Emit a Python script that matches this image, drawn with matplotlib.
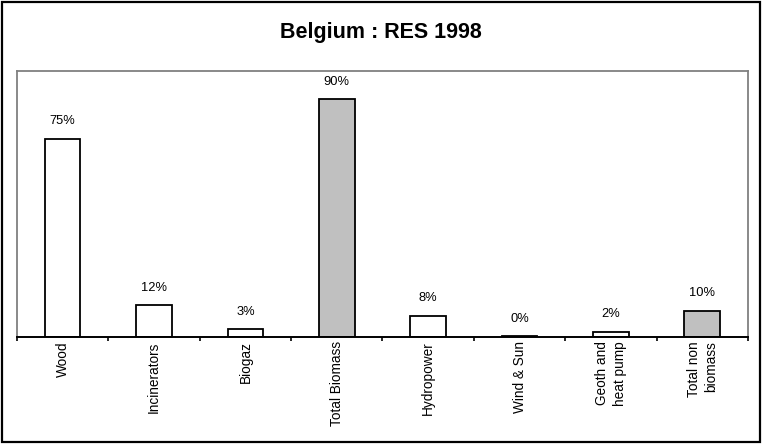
import matplotlib.pyplot as plt
from matplotlib.patches import Rectangle

plt.rcParams['font.family'] = ['Liberation Sans', 'DejaVu Sans']

categories = ["Wood", "Incinerators", "Biogaz", "Total Biomass",
              "Hydropower", "Wind & Sun", "Geoth and\nheat pump", "Total non\nbiomass"]
shares = [75, 12, 3, 90, 8, 0.4, 2, 10]
labels = ["75%", "12%", "3%", "90%", "8%", "0%", "2%", "10%"]
is_total = [False, False, False, True, False, False, False, True]

fig = plt.figure(figsize=(7.62, 4.44), dpi=100)
ax = fig.add_axes([0.0223, 0.241, 0.9593, 0.599])

colors = ['#C0C0C0' if t else 'white' for t in is_total]
x = list(range(len(categories)))
bars = ax.bar(x, shares, width=0.39, color=colors, edgecolor='black', linewidth=1.3, zorder=3)

for b, lab in zip(bars, labels):
    ax.annotate(lab, (b.get_x() + b.get_width() / 2, b.get_height()),
                xytext=(0, 12.5), textcoords='offset points',
                ha='center', va='center', fontsize=9.3)

ax.set_xlim(-0.5, 7.5)
ax.set_ylim(0, 100.6)
ax.set_yticks([])

ax.set_xticks(x)
ax.set_xticklabels(categories, rotation=90, fontsize=9.8, va='top', ha='center',
                   multialignment='right', linespacing=1.3)
ax.tick_params(axis='x', which='major', length=0, pad=3)
ax.set_xticks([i - 0.5 for i in range(len(categories) + 1)], minor=True)
ax.tick_params(axis='x', which='minor', length=3, width=1.2, direction='out', color='black')

for side in ['left', 'top', 'right']:
    ax.spines[side].set_color('#808080')
    ax.spines[side].set_linewidth(1.3)
ax.spines['bottom'].set_color('black')
ax.spines['bottom'].set_linewidth(1.4)
ax.spines['bottom'].set_zorder(4)

fig.text(0.5, 0.926, "Belgium : RES 1998", ha='center', va='center',
         fontsize=15.5, fontweight='bold')

fig.patches.append(Rectangle((0.003, 0.005), 0.994, 0.99, transform=fig.transFigure,
                             fill=False, edgecolor='black', linewidth=1.6))

fig.savefig("out.png", dpi=100)
